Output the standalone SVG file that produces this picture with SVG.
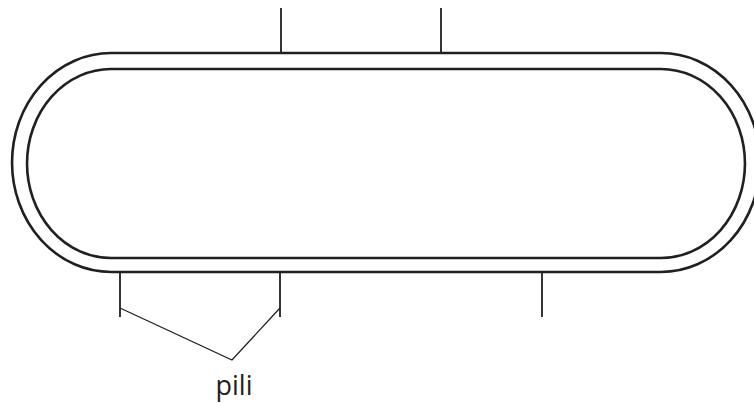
<svg xmlns="http://www.w3.org/2000/svg" width="754" height="403" viewBox="0 0 754 403">
<style>
.body{fill:none;stroke:#231f20;stroke-width:2.6}
.tick{fill:none;stroke:#231f20;stroke-width:1.8}
.thin{fill:none;stroke:#231f20;stroke-width:1.3}
.lbl{font-family:"Open Sans","Liberation Sans",sans-serif;font-size:27px;fill:#231f20}
</style>
<rect width="754" height="403" fill="#fff"/>
<g id="cell">
<path class="body" d="M111 53 H661 A99 109.5 0 0 1 661 272 H111 A99 109.5 0 0 1 111 53 Z"/>
<path class="body" d="M111 69 H661 A84 94.5 0 0 1 661 258 H111 A84 94.5 0 0 1 111 69 Z"/>
</g>
<g id="connectors">
<line class="tick" x1="281" y1="8" x2="281" y2="53"/>
<line class="tick" x1="441" y1="8" x2="441" y2="53"/>
<line class="tick" x1="120" y1="272" x2="120" y2="317"/>
<line class="tick" x1="280" y1="272" x2="280" y2="317"/>
<line class="tick" x1="542" y1="272" x2="542" y2="317"/>
<polyline class="thin" points="120,308 232,360 280,308"/>
</g>
<g id="label">
<text class="lbl" x="234" y="395" text-anchor="middle">pili</text>
</g>
</svg>
